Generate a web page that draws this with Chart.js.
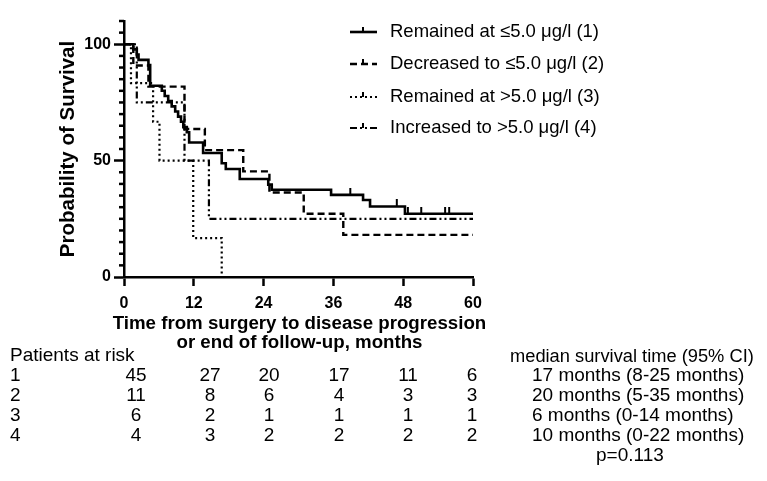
<!DOCTYPE html>
<html>
<head>
<meta charset="utf-8">
<script src="https://cdn.jsdelivr.net/npm/chart.js@4.4.0/dist/chart.umd.min.js"></script>
<style>
  html, body { margin: 0; padding: 0; background: #fff; }
</style>
</head>
<body>
<canvas id="chart" width="767" height="481"></canvas>
<script>
// ===== DATA =====
const groupLabels = [
  "Remained at \u22645.0 \u03bcg/l (1)",
  "Decreased to \u22645.0 \u03bcg/l (2)",
  "Remained at >5.0 \u03bcg/l (3)",
  "Increased to >5.0 \u03bcg/l (4)"
];

const xTitle = ["Time from surgery to disease progression", "or end of follow-up, months"];
const xTicks = [0, 12, 24, 36, 48, 60];
const yTicks = [0, 50, 100];

// group 1 - solid
const time1 = [0, 1.6, 2.2, 2.5, 4.2, 4.5, 6.5, 7.0, 7.6, 8.2, 8.8, 9.3, 9.8, 10.2, 10.8, 11.2, 13.6, 16.8, 17.5, 19.9, 24.8, 25.4, 35.6, 41.1, 42.3, 48.3, 60];
const surv1 = [100, 97.8, 95.6, 93.3, 91.1, 82.2, 80.0, 77.8, 75.6, 73.3, 71.1, 68.9, 66.7, 64.4, 62.2, 57.8, 53.3, 48.9, 46.4, 42.1, 39.7, 37.5, 35.3, 33.1, 30.3, 27.2, 27.2];
const cens1Time = [38.9, 46.9, 48.8, 51.1, 55.2, 55.9];
const cens1Surv = [35.3, 30.3, 27.2, 27.2, 27.2, 27.2];

// group 2 - dashed
const time2 = [0, 1.6, 4.2, 10.4, 13.9, 20.5, 25.0, 30.9, 37.7, 60];
const surv2 = [100, 90.9, 81.8, 63.6, 54.5, 45.4, 36.3, 27.2, 18.1, 18.1];

// group 3 - dotted
const time3 = [0, 1.2, 5.0, 6.1, 11.9, 16.8];
const surv3 = [100, 83.3, 66.7, 50.0, 16.7, 0];

// group 4 - dash-dot
const time4 = [0, 2.2, 10.4, 14.6, 60];
const surv4 = [100, 75, 50, 25, 25];

// patients at risk at 0, 12, 24, 36, 48, 60 months
const riskGroups = ["1", "2", "3", "4"];
const risk1 = [45, 27, 20, 17, 11, 6];
const risk2 = [11, 8, 6, 4, 3, 3];
const risk3 = [6, 2, 1, 1, 1, 1];
const risk4 = [4, 3, 2, 2, 2, 2];
const medians = [
  "17 months (8-25 months)",
  "20 months (5-35 months)",
  "6 months (0-14 months)",
  "10 months (0-22 months)"
];
const pValue = "p=0.113";

// ===== HELPERS =====
const FONT = "'Liberation Sans', Arial, sans-serif";

function pts(t, s) {
  return t.map((x, i) => ({ x: x, y: s[i] }));
}

function km(label, t, s, dash, width) {
  return {
    label: label,
    data: pts(t, s),
    stepped: true,
    borderColor: "#000",
    borderWidth: width,
    borderDash: dash,
    pointRadius: 0,
    fill: false
  };
}

// censor mark: short tick pointing up from the line
const tickImg = document.createElement("canvas");
tickImg.width = 4;
tickImg.height = 14;
const tctx = tickImg.getContext("2d");
tctx.fillStyle = "#000";
tctx.fillRect(1, 0, 2, 7);

// ===== EXTRA DRAWING (minor ticks, x title, legend, risk table) =====
const extras = {
  id: "extras",
  afterDraw(chart) {
    const ctx = chart.ctx;
    const ys = chart.scales.y;
    const area = chart.chartArea;
    ctx.save();

    // minor y ticks
    ctx.strokeStyle = "#000";
    ctx.lineWidth = 2.5;
    for (let v = 5; v <= 110; v += 5) {
      if (yTicks.includes(v)) continue;
      const py = ys.getPixelForValue(v);
      ctx.beginPath();
      ctx.moveTo(area.left - 5, py);
      ctx.lineTo(area.left, py);
      ctx.stroke();
    }

    // x axis title (wider than the axis, so drawn here)
    ctx.fillStyle = "#000";
    ctx.textBaseline = "middle";
    ctx.textAlign = "center";
    ctx.font = "bold 18.7px " + FONT;
    const cx = (area.left + area.right) / 2 + 1;
    ctx.fillText(xTitle[0], cx, 324);
    ctx.fillText(xTitle[1], cx, 343);

    // legend
    const legY = [32, 64, 97, 128];
    ctx.font = "18.5px " + FONT;
    for (let i = 0; i < 4; i++) {
      const ds = chart.data.datasets[i];
      const y = legY[i];
      ctx.lineWidth = ds.borderWidth;
      ctx.setLineDash(ds.borderDash || []);
      ctx.beginPath();
      ctx.moveTo(350, y);
      ctx.lineTo(377, y);
      ctx.stroke();
      ctx.setLineDash([]);
      ctx.lineWidth = 2;
      ctx.beginPath();
      ctx.moveTo(363, y - 5);
      ctx.lineTo(363, y);
      ctx.stroke();
      ctx.textAlign = "left";
      ctx.fillText(ds.label, 390, y);
    }

    // patients at risk table
    const colX = [136, 210, 269, 339, 408, 472];
    const rows = [risk1, risk2, risk3, risk4];
    ctx.font = "19px " + FONT;
    ctx.textAlign = "left";
    ctx.fillText("Patients at risk", 10, 356);
    for (let r = 0; r < rows.length; r++) {
      const y = 376 + r * 20;
      ctx.textAlign = "left";
      ctx.fillText(riskGroups[r], 10, y);
      ctx.fillText(medians[r], 532, y);
      ctx.textAlign = "center";
      rows[r].forEach((n, c) => ctx.fillText(String(n), colX[c], y));
    }
    ctx.textAlign = "left";
    ctx.fillText(pValue, 596, 456);
    ctx.font = "18.3px " + FONT;
    ctx.fillText("median survival time (95% CI)", 510, 357);

    ctx.restore();
  }
};

// ===== CHART =====
const ctx = document.getElementById("chart").getContext("2d");

const chart = new Chart(ctx, {
  type: "line",
  data: {
    datasets: [
      km(groupLabels[0], time1, surv1, [], 2.6),
      km(groupLabels[1], time2, surv2, [7, 4], 2.4),
      km(groupLabels[2], time3, surv3, [2, 3], 2.2),
      km(groupLabels[3], time4, surv4, [7, 3, 2, 3, 2, 3], 2.2),
      {
        label: "censored",
        data: pts(cens1Time, cens1Surv),
        showLine: false,
        pointStyle: tickImg,
        pointRadius: 4
      }
    ]
  },
  options: {
    responsive: false,
    animation: false,
    layout: { padding: { left: 56, right: 294, top: 21, bottom: 128 } },
    plugins: {
      legend: { display: false },
      tooltip: { enabled: false }
    },
    scales: {
      x: {
        type: "linear",
        min: 0,
        max: 60,
        afterBuildTicks: axis => { axis.ticks = xTicks.map(v => ({ value: v })); },
        afterFit: scale => { scale.height = 76; },
        grid: { drawOnChartArea: false, tickLength: 9, tickWidth: 2.5, tickColor: "#000" },
        border: { color: "#000", width: 2.5 },
        ticks: { color: "#000", font: { family: FONT, size: 16, weight: "bold" }, padding: 8, maxRotation: 0 }
      },
      y: {
        min: 0,
        max: 110,
        afterBuildTicks: axis => { axis.ticks = yTicks.map(v => ({ value: v })); },
        afterFit: scale => { scale.width = 68; },
        grid: { drawOnChartArea: false, tickLength: 10, tickWidth: 2.5, tickColor: "#000" },
        border: { color: "#000", width: 2.5 },
        ticks: { color: "#000", font: { family: FONT, size: 16, weight: "bold" }, padding: 3 },
        title: {
          display: true,
          text: "Probability of Survival",
          color: "#000",
          font: { family: FONT, size: 20.5, weight: "bold" },
          padding: 0
        }
      }
    }
  },
  plugins: [extras]
});
</script>
</body>
</html>
